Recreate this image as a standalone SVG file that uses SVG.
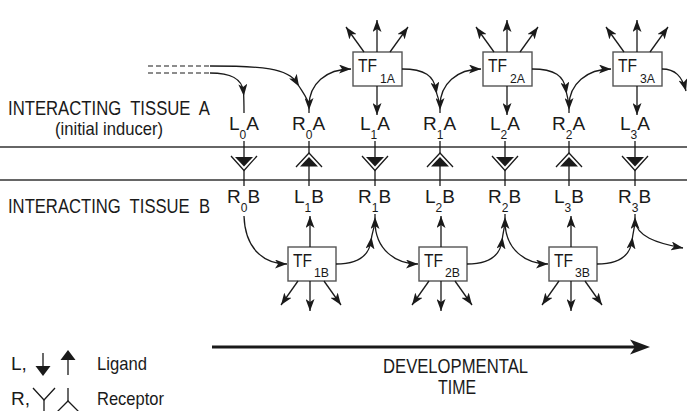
<svg xmlns="http://www.w3.org/2000/svg" width="687" height="411" viewBox="0 0 687 411">
<style>
text{font-family:"Liberation Sans",Arial,sans-serif;fill:#1a1a1a}
.lab{font-size:19px}
.sub{font-size:12px}
.big{font-size:20px}
.tf{font-size:19px}
.ln{stroke:#1a1a1a;stroke-width:1.3;fill:none}
.box{fill:#fff;stroke:#555;stroke-width:1.4}
.arr{stroke:#1a1a1a;stroke-width:1.3;fill:none;marker-end:url(#ah)}
.mid{stroke:#1a1a1a;stroke-width:1.3;fill:none;marker-mid:url(#am)}
.tri{fill:#1a1a1a}
.band{stroke:#333;stroke-width:1.5}
</style>
<defs>
<marker id="ah" viewBox="0 0 12 9" refX="12" refY="4.5" markerWidth="12" markerHeight="9" markerUnits="userSpaceOnUse" orient="auto">
<path d="M0,0 L12,4.5 L0,9 L3,4.5 z" fill="#1a1a1a"/>
</marker>
<marker id="am" viewBox="0 0 12 9" refX="8" refY="4.5" markerWidth="12" markerHeight="9" markerUnits="userSpaceOnUse" orient="auto">
<path d="M0,0 L12,4.5 L0,9 L3,4.5 z" fill="#1a1a1a"/>
</marker>
</defs>

<g id="tissue-lines">
<line class="band" x1="0" y1="147" x2="687" y2="147"/>
<line class="band" x1="0" y1="180" x2="687" y2="180" stroke="#555"/>
</g>

<g id="tissue-labels">
<text class="big" x="8" y="115" textLength="202" lengthAdjust="spacingAndGlyphs" xml:space="preserve">INTERACTING  TISSUE  A</text>
<text class="lab" x="55" y="135" textLength="108" lengthAdjust="spacingAndGlyphs">(initial inducer)</text>
<text class="big" x="8" y="213" textLength="202" lengthAdjust="spacingAndGlyphs" xml:space="preserve">INTERACTING  TISSUE  B</text>
</g>

<g id="a-labels" class="lab">
<text x="229" y="130">L<tspan class="sub" dy="9">0</tspan><tspan dy="-9">A</tspan></text>
<text x="292" y="130">R<tspan class="sub" dy="9">0</tspan><tspan dy="-9">A</tspan></text>
<text x="360" y="130">L<tspan class="sub" dy="9">1</tspan><tspan dy="-9">A</tspan></text>
<text x="423" y="130">R<tspan class="sub" dy="9">1</tspan><tspan dy="-9">A</tspan></text>
<text x="490" y="130">L<tspan class="sub" dy="9">2</tspan><tspan dy="-9">A</tspan></text>
<text x="552" y="130">R<tspan class="sub" dy="9">2</tspan><tspan dy="-9">A</tspan></text>
<text x="620" y="130">L<tspan class="sub" dy="9">3</tspan><tspan dy="-9">A</tspan></text>
</g>

<g id="b-labels" class="lab">
<text x="227" y="203">R<tspan class="sub" dy="9">0</tspan><tspan dy="-9">B</tspan></text>
<text x="294" y="203">L<tspan class="sub" dy="9">1</tspan><tspan dy="-9">B</tspan></text>
<text x="358" y="203">R<tspan class="sub" dy="9">1</tspan><tspan dy="-9">B</tspan></text>
<text x="425" y="203">L<tspan class="sub" dy="9">2</tspan><tspan dy="-9">B</tspan></text>
<text x="488" y="203">R<tspan class="sub" dy="9">2</tspan><tspan dy="-9">B</tspan></text>
<text x="554" y="203">L<tspan class="sub" dy="9">3</tspan><tspan dy="-9">B</tspan></text>
<text x="618" y="203">R<tspan class="sub" dy="9">3</tspan><tspan dy="-9">B</tspan></text>
</g>

<g id="tf1a"><rect class="box" x="353" y="52" width="49" height="34"/><text class="tf" x="358" y="72" textLength="19" lengthAdjust="spacingAndGlyphs">TF</text><text class="sub" x="380" y="83" textLength="15" lengthAdjust="spacingAndGlyphs">1A</text></g>
<g id="tf2a"><rect class="box" x="483" y="52" width="49" height="34"/><text class="tf" x="488" y="72" textLength="19" lengthAdjust="spacingAndGlyphs">TF</text><text class="sub" x="510" y="83" textLength="15" lengthAdjust="spacingAndGlyphs">2A</text></g>
<g id="tf3a"><rect class="box" x="613" y="52" width="49" height="34"/><text class="tf" x="618" y="72" textLength="19" lengthAdjust="spacingAndGlyphs">TF</text><text class="sub" x="640" y="83" textLength="15" lengthAdjust="spacingAndGlyphs">3A</text></g>
<g id="tf1b"><rect class="box" x="288" y="247" width="48" height="34"/><text class="tf" x="293" y="267" textLength="19" lengthAdjust="spacingAndGlyphs">TF</text><text class="sub" x="314" y="277" textLength="15" lengthAdjust="spacingAndGlyphs">1B</text></g>
<g id="tf2b"><rect class="box" x="419" y="247" width="48" height="34"/><text class="tf" x="424" y="267" textLength="19" lengthAdjust="spacingAndGlyphs">TF</text><text class="sub" x="445" y="277" textLength="15" lengthAdjust="spacingAndGlyphs">2B</text></g>
<g id="tf3b"><rect class="box" x="549" y="247" width="48" height="34"/><text class="tf" x="554" y="267" textLength="19" lengthAdjust="spacingAndGlyphs">TF</text><text class="sub" x="575" y="277" textLength="15" lengthAdjust="spacingAndGlyphs">3B</text></g>

<g id="band-symbols">
<g id="sym0"><line class="ln" x1="244" y1="141" x2="244" y2="157"/><polygon class="tri" points="235,157 253,157 244,166.5"/><polyline class="ln" points="231,156 244,170.5 257,156"/><line class="ln" x1="244" y1="170" x2="244" y2="186"/></g>
<g id="sym2"><line class="ln" x1="375" y1="141" x2="375" y2="157"/><polygon class="tri" points="366,157 384,157 375,166.5"/><polyline class="ln" points="362,156 375,170.5 388,156"/><line class="ln" x1="375" y1="170" x2="375" y2="186"/></g>
<g id="sym4"><line class="ln" x1="505" y1="141" x2="505" y2="157"/><polygon class="tri" points="496,157 514,157 505,166.5"/><polyline class="ln" points="492,156 505,170.5 518,156"/><line class="ln" x1="505" y1="170" x2="505" y2="186"/></g>
<g id="sym6"><line class="ln" x1="635" y1="141" x2="635" y2="157"/><polygon class="tri" points="626,157 644,157 635,166.5"/><polyline class="ln" points="622,156 635,170.5 648,156"/><line class="ln" x1="635" y1="170" x2="635" y2="186"/></g>
<g id="sym1"><line class="ln" x1="309" y1="141" x2="309" y2="153"/><polyline class="ln" points="296,167 309,153 322,167"/><polygon class="tri" points="300,166.5 318,166.5 309,157"/><line class="ln" x1="309" y1="166" x2="309" y2="186"/></g>
<g id="sym3"><line class="ln" x1="440" y1="141" x2="440" y2="153"/><polyline class="ln" points="427,167 440,153 453,167"/><polygon class="tri" points="431,166.5 449,166.5 440,157"/><line class="ln" x1="440" y1="166" x2="440" y2="186"/></g>
<g id="sym5"><line class="ln" x1="569" y1="141" x2="569" y2="153"/><polyline class="ln" points="556,167 569,153 582,167"/><polygon class="tri" points="560,166.5 578,166.5 569,157"/><line class="ln" x1="569" y1="166" x2="569" y2="186"/></g>
</g>

<g id="connectors">
<line x1="148" y1="66" x2="210" y2="66" stroke="#1a1a1a" stroke-width="1.2" stroke-dasharray="5,3"/>
<line x1="148" y1="73" x2="210" y2="73" stroke="#1a1a1a" stroke-width="1.2" stroke-dasharray="5,3"/>
<path class="mid" d="M210,73 C230,73 242,78 243.5,92 C244,100 244,106 244,113"/>
<path class="mid" d="M210,66 C262,66 288,68 297,83 C303,93 309,100 309,106 L309,113"/>
<path class="arr" d="M309,106 C309,84 326,69 351,69"/>
<path class="mid" d="M402,69 C425,69 434,76 436,90 C437,97 440,101 440,106 L440,113"/>
<path class="arr" d="M440,106 C440,84 457,69 481,69"/>
<path class="mid" d="M532,69 C555,69 564,76 566,90 C567,97 569,101 569,106 L569,113"/>
<path class="arr" d="M569,106 C569,84 587,69 611,69"/>
<path class="arr" d="M662,69 C675,69 682,76 686,91"/>
<path class="arr" d="M377,86 L377,115"/>
<path class="arr" d="M377,52 L377,20"/>
<path class="arr" d="M364,52 L346,27"/>
<path class="arr" d="M390,52 L408,27"/>
<path class="arr" d="M507,86 L507,115"/>
<path class="arr" d="M507,52 L507,20"/>
<path class="arr" d="M494,52 L476,27"/>
<path class="arr" d="M520,52 L538,27"/>
<path class="arr" d="M637,86 L637,115"/>
<path class="arr" d="M637,52 L637,20"/>
<path class="arr" d="M624,52 L606,27"/>
<path class="arr" d="M650,52 L668,27"/>
<path class="arr" d="M244,216 C245,248 263,264 287,264"/>
<path class="mid" d="M336,264 C358,264 369,256 371,241 C372,232 375,226 375,221 L375,214"/>
<path class="arr" d="M375,221 C375,250 396,264 418,264"/>
<path class="mid" d="M467,264 C489,264 500,256 502,241 C503,232 505,226 505,221 L505,214"/>
<path class="arr" d="M505,221 C505,250 526,264 548,264"/>
<path class="mid" d="M597,264 C618,264 630,256 632,241 C633,232 635,226 635,221 L635,214"/>
<path class="arr" d="M635,221 C637,236 655,243 683,248"/>
<path class="arr" d="M310,247 L310,216"/>
<path class="arr" d="M310,281 L310,311"/>
<path class="arr" d="M298,281 L281,305"/>
<path class="arr" d="M324,281 L341,305"/>
<path class="arr" d="M441,247 L441,216"/>
<path class="arr" d="M441,281 L441,311"/>
<path class="arr" d="M429,281 L412,305"/>
<path class="arr" d="M455,281 L472,305"/>
<path class="arr" d="M571,247 L571,216"/>
<path class="arr" d="M571,281 L571,311"/>
<path class="arr" d="M559,281 L542,305"/>
<path class="arr" d="M585,281 L602,305"/>
</g>

<g id="time-axis">
<line x1="212" y1="347" x2="637" y2="347" stroke="#1a1a1a" stroke-width="3"/>
<polygon points="650,347 630,339.5 635,347 630,354.5" fill="#1a1a1a"/>
<text class="big" x="455.5" y="373" text-anchor="middle" textLength="145" lengthAdjust="spacingAndGlyphs">DEVELOPMENTAL</text>
<text class="big" x="457" y="394" text-anchor="middle" textLength="38" lengthAdjust="spacingAndGlyphs">TIME</text>
</g>

<g id="legend">
<text class="lab" x="11" y="370">L,</text>
<line class="ln" x1="43" y1="353" x2="43" y2="368"/>
<polygon class="tri" points="35.5,366 50.5,366 43,376"/>
<line class="ln" x1="68" y1="375" x2="68" y2="358"/>
<polygon class="tri" points="60.5,360 75.5,360 68,350"/>
<text class="lab" x="97" y="370" textLength="50" lengthAdjust="spacingAndGlyphs">Ligand</text>
<text class="lab" x="11" y="405">R,</text>
<polyline class="ln" points="33,388 44,400 55,388"/>
<line class="ln" x1="44" y1="400" x2="44" y2="412"/>
<line class="ln" x1="68" y1="388" x2="68" y2="401"/>
<polyline class="ln" points="57,412 68,401 79,412"/>
<text class="lab" x="97" y="405" textLength="67" lengthAdjust="spacingAndGlyphs">Receptor</text>
</g>
</svg>
